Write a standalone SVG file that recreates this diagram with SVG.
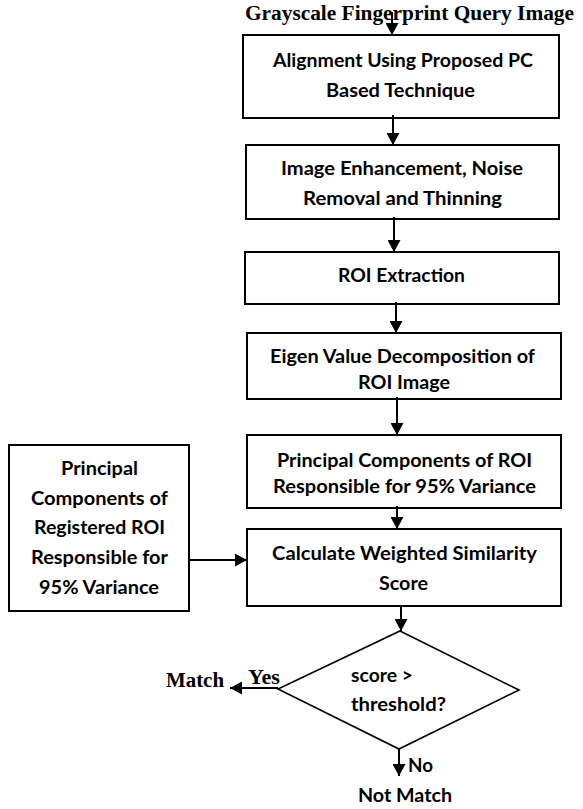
<svg xmlns="http://www.w3.org/2000/svg" width="583" height="809" viewBox="0 0 583 809">
  <defs>
    <style>
      .box { fill: #fff; stroke: #000; stroke-width: 2; }
      .dia { fill: #fff; stroke: #000; stroke-width: 1.6; }
      .lbl { font-family: Lato, "Open Sans", sans-serif; font-weight: 700; font-size: 19px; fill: #000; }
      .ser { font-family: "Liberation Serif", "Times New Roman", serif; font-weight: 700; font-size: 21.33px; fill: #000; }
      .wire { fill: none; stroke: #000; stroke-width: 2; marker-end: url(#head); }
    </style>
    <marker id="head" markerUnits="userSpaceOnUse" markerWidth="13" markerHeight="13" refX="12" refY="6.5" orient="auto">
      <path d="M0,0 L12,6.5 L0,13 z" fill="#000"/>
    </marker>
  </defs>
  <rect width="583" height="809" fill="#fff"/>

  <g id="input">
    <text class="ser" x="245" y="20" textLength="329" lengthAdjust="spacingAndGlyphs">Grayscale Fingerprint Query Image</text>
  </g>

  <g id="alignment">
    <rect class="box" x="243" y="35" width="316" height="83"/>
    <text class="lbl" x="273" y="66.5" textLength="260" lengthAdjust="spacingAndGlyphs">Alignment Using Proposed PC</text>
    <text class="lbl" x="326" y="97" textLength="149" lengthAdjust="spacingAndGlyphs">Based Technique</text>
  </g>

  <g id="enhancement">
    <rect class="box" x="246" y="145" width="313" height="74"/>
    <text class="lbl" x="281" y="175" textLength="242" lengthAdjust="spacingAndGlyphs">Image Enhancement, Noise</text>
    <text class="lbl" x="303" y="205" textLength="199" lengthAdjust="spacingAndGlyphs">Removal and Thinning</text>
  </g>

  <g id="roi-extraction">
    <rect class="box" x="245" y="252" width="314" height="52"/>
    <text class="lbl" x="338" y="282" textLength="127" lengthAdjust="spacingAndGlyphs">ROI Extraction</text>
  </g>

  <g id="eigen">
    <rect class="box" x="247" y="333" width="314" height="66"/>
    <text class="lbl" x="270" y="363" textLength="265" lengthAdjust="spacingAndGlyphs">Eigen Value Decomposition of</text>
    <text class="lbl" x="358" y="388.5" textLength="92" lengthAdjust="spacingAndGlyphs">ROI Image</text>
  </g>

  <g id="query-pc">
    <rect class="box" x="247" y="435" width="314" height="73"/>
    <text class="lbl" x="277" y="466.5" textLength="255" lengthAdjust="spacingAndGlyphs">Principal Components of ROI</text>
    <text class="lbl" x="273" y="493" textLength="263" lengthAdjust="spacingAndGlyphs">Responsible for 95% Variance</text>
  </g>

  <g id="registered-pc">
    <rect class="box" x="9" y="445" width="180" height="166"/>
    <text class="lbl" x="61" y="475" textLength="77" lengthAdjust="spacingAndGlyphs">Principal</text>
    <text class="lbl" x="31" y="505" textLength="137" lengthAdjust="spacingAndGlyphs">Components of</text>
    <text class="lbl" x="34" y="534" textLength="131" lengthAdjust="spacingAndGlyphs">Registered ROI</text>
    <text class="lbl" x="31" y="564" textLength="137" lengthAdjust="spacingAndGlyphs">Responsible for</text>
    <text class="lbl" x="39" y="594" textLength="120" lengthAdjust="spacingAndGlyphs">95% Variance</text>
  </g>

  <g id="similarity">
    <rect class="box" x="247" y="529" width="314" height="77"/>
    <text class="lbl" x="272" y="560" textLength="265" lengthAdjust="spacingAndGlyphs">Calculate Weighted Similarity</text>
    <text class="lbl" x="379" y="590" textLength="49" lengthAdjust="spacingAndGlyphs">Score</text>
  </g>

  <g id="decision">
    <polygon class="dia" points="400,631 519,690 399,749 278,689"/>
    <text class="lbl" x="351" y="682" textLength="62" lengthAdjust="spacingAndGlyphs">score &gt;</text>
    <text class="lbl" x="351" y="711" textLength="95" lengthAdjust="spacingAndGlyphs">threshold?</text>
  </g>

  <g id="match">
    <text class="ser" x="166" y="687" textLength="58" lengthAdjust="spacingAndGlyphs">Match</text>
  </g>

  <g id="not-match">
    <text class="lbl" x="358" y="802" textLength="94" lengthAdjust="spacingAndGlyphs">Not Match</text>
  </g>

  <g id="connectors">
    <line class="wire" x1="392" y1="12" x2="392" y2="35"/>
    <line class="wire" x1="393" y1="115" x2="393" y2="145"/>
    <line class="wire" x1="394" y1="217" x2="394" y2="252"/>
    <line class="wire" x1="396" y1="302" x2="396" y2="333"/>
    <line class="wire" x1="397" y1="397" x2="397" y2="435"/>
    <line class="wire" x1="397" y1="506" x2="397" y2="529"/>
    <line class="wire" x1="401" y1="606" x2="401" y2="631"/>
    <line class="wire" x1="189" y1="560" x2="247" y2="560"/>
    <line class="wire" x1="278" y1="688" x2="230" y2="688"/>
    <line class="wire" x1="399" y1="749" x2="399" y2="776"/>
    <text class="ser" x="248" y="684" textLength="32" lengthAdjust="spacingAndGlyphs">Yes</text>
    <text class="lbl" x="408" y="772" textLength="25" lengthAdjust="spacingAndGlyphs">No</text>
  </g>
</svg>
